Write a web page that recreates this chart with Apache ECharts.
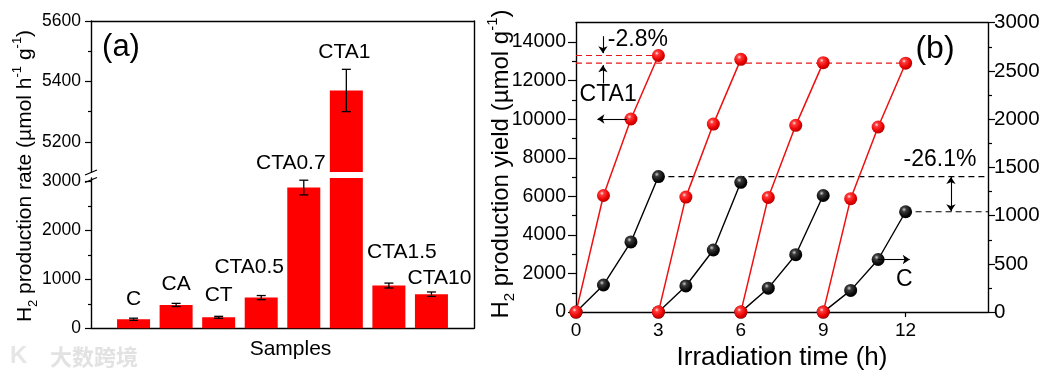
<!DOCTYPE html>
<html><head><meta charset="utf-8">
<script src="https://cdn.jsdelivr.net/npm/echarts@6/dist/echarts.min.js"></script>
<style>html,body{margin:0;padding:0;background:#fff}#c{width:1052px;height:376px}</style>
</head><body><div id="c"></div>
<script>
const FONT = '"Liberation Sans", Arial, Helvetica, sans-serif';

// ---------- Panel (a) data ----------
const samples = ['C', 'CA', 'CT', 'CTA0.5', 'CTA0.7', 'CTA1', 'CTA1.5', 'CTA10'];
const rates = [185, 478, 225, 628, 2880, 5370, 875, 698];
const rateErrors = [22, 32, 20, 42, 150, 70, 50, 45];
const lowerTicks = [0, 1000, 2000, 3000];
const lowerMinorTicks = [500, 1500, 2500];
const upperTicks = [5200, 5400, 5600];
const upperMinorTicks = [5300, 5500];

// ---------- Panel (b) data ----------
const runStarts = [0, 3, 6, 9];
const runHours = [0, 1, 2, 3];
const cta1Yield = [
  [0, 6045, 10010, 13300],
  [0, 5960, 9745, 13100],
  [0, 5945, 9680, 12930],
  [0, 5880, 9595, 12900]
];
const cYield = [
  [0, 281, 727, 1405],
  [0, 271, 644, 1345],
  [0, 248, 595, 1209],
  [0, 225, 545, 1040]
];
const timeTicks = [0, 3, 6, 9, 12];
const yieldTicks = [0, 2000, 4000, 6000, 8000, 10000, 12000, 14000];
const yieldMinorTicks = [1000, 3000, 5000, 7000, 9000, 11000, 13000];

// ---------- layout / style ----------
const lowerMax = 3075, upperMin = 5100, upperMax = 5600;
const labelNudges = [[0, -10], [0, -10], [0, -12], [-12, -20], [-13, -14], [-2, -28], [13, -23], [8, -5]];
const axisColor = '#000';
const lineW = 1.4;
const plain = v => String(v);

const redBall = { type: 'radial', x: 0.38, y: 0.33, r: 0.7, colorStops: [
  { offset: 0, color: '#ffe6e6' }, { offset: 0.22, color: '#ff3a3a' }, { offset: 0.7, color: '#e80000' }, { offset: 1, color: '#b00000' }] };
const blackBall = { type: 'radial', x: 0.38, y: 0.33, r: 0.7, colorStops: [
  { offset: 0, color: '#d0d0d0' }, { offset: 0.25, color: '#3a3a3a' }, { offset: 0.75, color: '#080808' }, { offset: 1, color: '#000' }] };

function baseAxis(extra) {
  return Object.assign({
    type: 'value',
    splitLine: { show: false },
    axisLine: { show: true, onZero: false, lineStyle: { color: axisColor, width: lineW } },
    axisTick: { show: false },
    axisLabel: { show: false },
  }, extra);
}
function ticksAxis(values, len, labels, font, margin, extra) {
  return baseAxis(Object.assign({
    axisTick: { show: true, inside: false, length: len, customValues: values, lineStyle: { color: axisColor, width: 1.2 } },
    axisLabel: labels ? { show: true, customValues: values, fontSize: font, fontFamily: FONT, color: '#000', margin: margin, formatter: plain } : { show: false }
  }, extra));
}

function errorRender(params, api) {
  const x = api.value(0), lo = api.value(1), hi = api.value(2);
  const p1 = api.coord([x, hi]);
  const p2 = api.coord([x, lo]);
  const w = 4.5;
  const st = { stroke: '#000', lineWidth: 1.3 };
  return { type: 'group', children: [
    { type: 'line', shape: { x1: p1[0], y1: p1[1], x2: p2[0], y2: p2[1] }, style: st },
    { type: 'line', shape: { x1: p1[0] - w, y1: p1[1], x2: p1[0] + w, y2: p1[1] }, style: st },
    { type: 'line', shape: { x1: p2[0] - w, y1: p2[1], x2: p2[0] + w, y2: p2[1] }, style: st }
  ] };
}

const barLabel = { show: true, position: 'top', distance: 0, fontSize: 21, lineHeight: 21, fontFamily: FONT, color: '#000',
  formatter: p => samples[p.dataIndex] };

const lowerBars = rates.map((v, i) => ({ value: [i + 1, v], label: v > lowerMax ? { show: false } : { offset: labelNudges[i] } }));
const upperBars = rates.map((v, i) => v > upperMin ? { value: [i + 1, v], label: { offset: labelNudges[i] } } : { value: [i + 1, null], label: { show: false } });
const lowerErr = rates.map((v, i) => [i + 1, v - rateErrors[i], v + rateErrors[i]]).filter(d => d[2] <= lowerMax);
const upperErr = rates.map((v, i) => [i + 1, v - rateErrors[i], v + rateErrors[i]]).filter(d => d[1] >= upperMin);

const series = [];
// panel (a)
series.push({ type: 'bar', xAxisIndex: 1, yAxisIndex: 2, barWidth: 33, data: lowerBars, itemStyle: { color: '#ff0000' }, label: barLabel, clip: true, silent: true });
series.push({ type: 'bar', xAxisIndex: 0, yAxisIndex: 0, barWidth: 33, data: upperBars, itemStyle: { color: '#ff0000' }, label: barLabel, clip: true, silent: true });
series.push({ type: 'custom', xAxisIndex: 1, yAxisIndex: 2, renderItem: errorRender, data: lowerErr, z: 5, silent: true });
series.push({ type: 'custom', xAxisIndex: 0, yAxisIndex: 0, renderItem: errorRender, data: upperErr, z: 5, silent: true });

// panel (b)
const RED_SI = series.length;
runStarts.forEach((s, i) => {
  series.push({ type: 'line', xAxisIndex: 3, yAxisIndex: 5, data: runHours.map((h, j) => [s + h, cta1Yield[i][j]]),
    lineStyle: { color: '#ee1010', width: 1.5 }, symbol: 'circle', symbolSize: 13, showSymbol: true,
    itemStyle: { color: redBall }, z: 4, silent: true, clip: false });
});
const BLACK_SI = series.length;
runStarts.forEach((s, i) => {
  series.push({ type: 'line', xAxisIndex: 3, yAxisIndex: 7, data: runHours.map((h, j) => [s + h, cYield[i][j]]),
    lineStyle: { color: '#000', width: 1.4 }, symbol: 'circle', symbolSize: 13, showSymbol: true,
    itemStyle: { color: blackBall }, z: 3, silent: true, clip: false });
});

const arrowML = (data, sym) => ({ silent: true, symbol: sym || ['none', 'arrow'], symbolSize: 7, animation: false,
  lineStyle: { color: '#000', type: 'solid', width: 1.1 }, label: { show: false }, emphasis: { disabled: true }, data: data });

// red dashed reference lines
const firstPeak = cta1Yield[0][3], lastPeak = cta1Yield[3][3];
series.push({ type: 'line', xAxisIndex: 3, yAxisIndex: 5, data: [[0, firstPeak], [runStarts[0] + 3, firstPeak]], symbol: 'none',
  lineStyle: { color: '#e81818', width: 1.2, type: [6, 4] }, z: 2, silent: true,
  markLine: arrowML([
    [{ coord: [0.98, 14300] }, { coord: [0.98, 13420] }],
    [{ coord: [0.98, 11850] }, { coord: [0.98, 12800] }],
    [{ coord: [1.85, cta1Yield[0][2]] }, { coord: [0.78, cta1Yield[0][2]] }]
  ]) });
series.push({ type: 'line', xAxisIndex: 3, yAxisIndex: 5, data: [[0, lastPeak], [runStarts[3] + 3, lastPeak]], symbol: 'none',
  lineStyle: { color: '#e81818', width: 1.2, type: [6, 4] }, z: 2, silent: true });
// black dashed reference lines
const cFirst = cYield[0][3], cLast = cYield[3][3];
series.push({ type: 'line', xAxisIndex: 3, yAxisIndex: 7, data: [[runStarts[0] + 3, cFirst], [15, cFirst]], symbol: 'none',
  lineStyle: { color: '#000', width: 1.2, type: [6, 4] }, z: 2, silent: true,
  markLine: arrowML([[{ coord: [13.65, cFirst - 5] }, { coord: [13.65, cLast + 5] }]], ['arrow', 'arrow']) });
series.push({ type: 'line', xAxisIndex: 3, yAxisIndex: 7, data: [[runStarts[3] + 3, cLast], [15, cLast]], symbol: 'none',
  lineStyle: { color: '#000', width: 1.2, type: [6, 4] }, z: 2, silent: true,
  markLine: arrowML([[{ coord: [11, cYield[3][2]] }, { coord: [12.15, cYield[3][2]] }]]) });

const gA = { left: 91, right: 1052 - 474 };
const option = {
  animation: false,
  backgroundColor: '#fff',
  textStyle: { fontFamily: FONT },
  grid: [
    { left: gA.left, right: gA.right, top: 21, height: 151 },          // 0 upper (a)
    { left: gA.left, right: gA.right, top: 178, height: 150.3 },       // 1 lower (a)
    { left: gA.left, right: gA.right, top: 21, height: 307.3 },        // 2 frame (a)
    { left: 576, width: 412, top: 22.7, height: 301.6 }                // 3 (b)
  ],
  xAxis: [
    baseAxis({ gridIndex: 0, min: 0, max: 9, position: 'top' }),
    baseAxis({ gridIndex: 1, min: 0, max: 9, position: 'bottom', name: 'Samples', nameLocation: 'middle', nameGap: 10,
      nameTextStyle: { fontSize: 21, fontFamily: FONT, color: '#000', padding: [0, 0, 0, 16] } }),
    baseAxis({ gridIndex: 2, min: 0, max: 1, show: false }),
    ticksAxis(timeTicks, 5, true, 19, 9, { gridIndex: 3, min: 0, max: 15, interval: 3, position: 'bottom',
      name: 'Irradiation time (h)', nameLocation: 'middle', nameGap: 30,
      nameTextStyle: { fontSize: 26, fontFamily: FONT, color: '#000' } }),
    baseAxis({ gridIndex: 3, min: 0, max: 15, position: 'top' })
  ],
  yAxis: [
    ticksAxis(upperTicks, 6, true, 17.5, 10, { gridIndex: 0, min: upperMin, max: upperMax, position: 'left' }),   // 0
    ticksAxis(upperMinorTicks, 3, false, 0, 0, { gridIndex: 0, min: upperMin, max: upperMax, position: 'left', axisLine: { show: false } }), // 1
    ticksAxis(lowerTicks, 6, true, 17.5, 10, { gridIndex: 1, min: 0, max: lowerMax, position: 'left' }),          // 2
    ticksAxis(lowerMinorTicks, 3, false, 0, 0, { gridIndex: 1, min: 0, max: lowerMax, position: 'left', axisLine: { show: false } }), // 3
    baseAxis({ gridIndex: 2, min: 0, max: 1, position: 'right' }),                                                // 4
    ticksAxis(yieldTicks, 8, true, 19.5, 10, { gridIndex: 3, min: 0, max: 15000, position: 'left' }),             // 5
    ticksAxis(yieldMinorTicks, 4, false, 0, 0, { gridIndex: 3, min: 0, max: 15000, position: 'left', axisLine: { show: false } }), // 6
    baseAxis({ gridIndex: 3, min: 0, max: 3000, interval: 500, position: 'right',
      axisTick: { show: true, inside: false, length: 7, lineStyle: { color: axisColor, width: 1.2 } },
      minorTick: { show: true, splitNumber: 2, length: 4, lineStyle: { color: axisColor, width: 1.2 } },
      axisLabel: { show: true, fontSize: 20.5, fontFamily: FONT, color: '#000', margin: 6, formatter: plain } })    // 7
  ],
  series: series
};

const chart = echarts.init(document.getElementById('c'), null, { renderer: 'canvas' });
chart.setOption(option);

// ---------- annotations (text and decorations) ----------
const px = (si, pt) => chart.convertToPixel({ seriesIndex: si }, pt);
const txt = (x, y, text, size, align) => ({ type: 'text', x: x, y: y, silent: true, z: 100,
  style: { text: text, fontSize: size, fontFamily: FONT, fill: '#000', align: align || 'center', verticalAlign: 'middle' } });

const pA = px(RED_SI, [1.16, 14140]);
const pCTA = px(RED_SI, [1.17, 11250]);
const pB = px(BLACK_SI, [13.25, 1585]);
const pC = px(BLACK_SI, [11.95, 341]);

const subRich = (main) => ({
  n: { fontSize: main, fontFamily: FONT, fill: '#000', lineHeight: main + 8 },
  s: { fontSize: Math.round(main * 0.62), fontFamily: FONT, fill: '#000', lineHeight: Math.round(main * 0.62), verticalAlign: 'bottom' },
  p: { fontSize: Math.round(main * 0.62), fontFamily: FONT, fill: '#000', lineHeight: Math.round(main * 0.62), verticalAlign: 'top' }
});

const graphics = [
  txt(121, 47.5, '(a)', 31),
  txt(935, 49, '(b)', 32),
  { type: 'text', x: 25, y: 176, rotation: Math.PI / 2, silent: true, z: 100,
    style: { text: '{n|H}{s|2}{n| production rate (µmol h}{p|-1}{n| g}{p|-1}{n|)}', rich: subRich(21), align: 'center', verticalAlign: 'middle', fill: '#000', fontFamily: FONT } },
  { type: 'text', x: 501, y: 164, rotation: Math.PI / 2, silent: true, z: 100,
    style: { text: '{n|H}{s|2}{n| production yield (µmol g}{p|-1}{n|)}', rich: subRich(24), align: 'center', verticalAlign: 'middle', fill: '#000', fontFamily: FONT } },
  txt(pA[0], pA[1], '-2.8%', 23, 'left'),
  txt(pCTA[0], pCTA[1], 'CTA1', 23),
  txt(pB[0], pB[1], '-26.1%', 23),
  txt(pC[0], pC[1], 'C', 23),
  // axis break marks
  { type: 'line', silent: true, z: 100, shape: { x1: 85, y1: 175, x2: 97, y2: 170 }, style: { stroke: '#000', lineWidth: 1.2 } },
  { type: 'line', silent: true, z: 100, shape: { x1: 85, y1: 182.5, x2: 97, y2: 177.5 }, style: { stroke: '#000', lineWidth: 1.2 } },
  // watermark
  { type: 'text', x: 50, y: 357, silent: true, z: 100,
    style: { text: '大数跨境', fontSize: 22, fontWeight: 'bold', fontFamily: '"Noto Sans CJK SC", sans-serif', fill: '#e2e2e2', align: 'left', verticalAlign: 'middle' } },
  { type: 'text', x: 10, y: 356, silent: true, z: 100,
    style: { text: 'K', fontSize: 24, fontWeight: 'bold', fontFamily: FONT, fill: '#e6e6e6', align: 'left', verticalAlign: 'middle' } }
];
chart.setOption({ graphic: graphics });
</script>
</body></html>
